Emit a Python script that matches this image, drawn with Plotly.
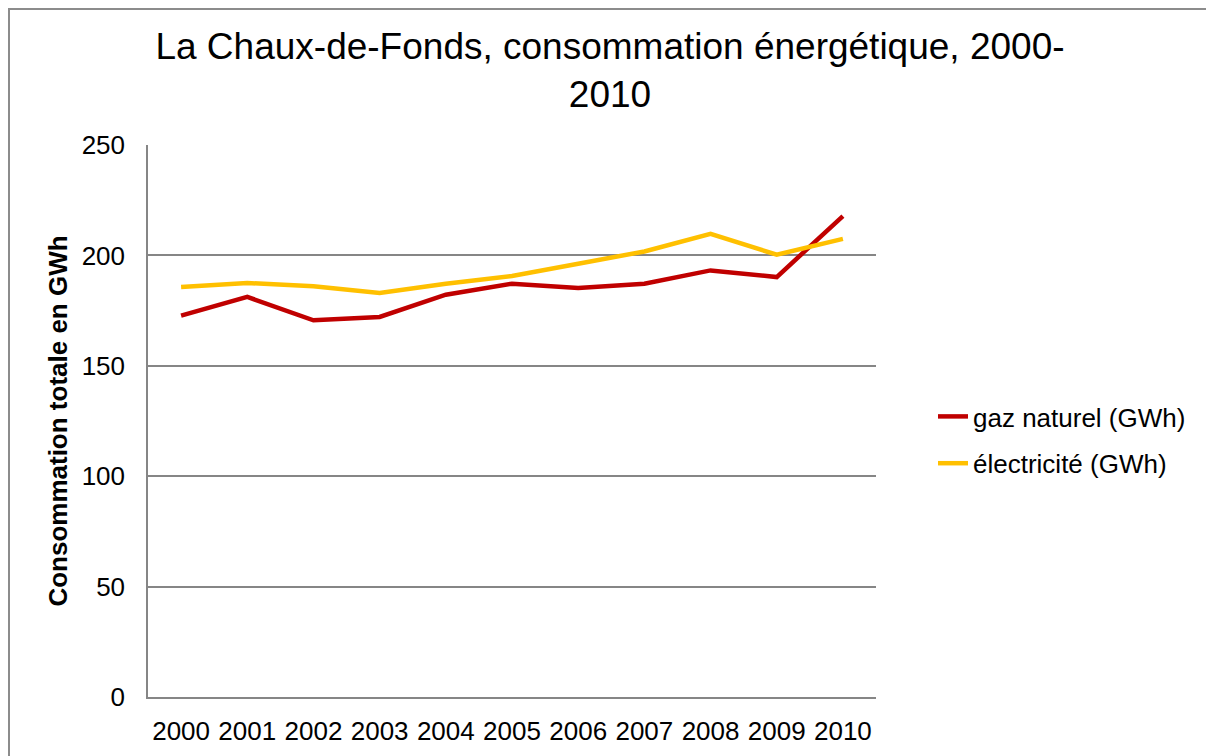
import plotly.graph_objects as go

years = ["2000", "2001", "2002", "2003", "2004", "2005", "2006", "2007", "2008", "2009", "2010"]
gaz_naturel = [172.7, 181.2, 170.6, 172.1, 182.2, 187.2, 185.2, 187.2, 193.2, 190.2, 217.8]
electricite = [185.7, 187.5, 186.0, 183.0, 187.2, 190.7, 196.2, 201.8, 209.8, 200.3, 207.5]
y_ticks = [0, 50, 100, 150, 200, 250]

FONT = "Liberation Sans, Arial, sans-serif"
OFF = 8  # page body margin

fig = go.Figure()
fig.add_trace(go.Scatter(x=years, y=gaz_naturel, mode="lines", name="gaz naturel (GWh)",
                         legendgroup="g", line=dict(color="#C00000", width=4.5)))
fig.add_trace(go.Scatter(x=years, y=electricite, mode="lines", name="électricité (GWh)",
                         legendgroup="e", line=dict(color="#FFC000", width=4.5)))

W, H = 1214, 756
L, T = 148 - OFF, 145 - OFF
R = W - (876 - OFF)
B = H - (697 - OFF)
pw, ph = W - L - R, H - T - B


def px(xs):
    return (xs - OFF - L) / pw


def py(ys):
    return (697 - ys) / ph


fig.update_layout(
    width=W, height=H,
    margin=dict(l=L, r=R, t=T, b=B, pad=0),
    paper_bgcolor="white", plot_bgcolor="white",
    font=dict(family=FONT, size=26, color="black"),
    title=dict(text="La Chaux-de-Fonds, consommation énergétique, 2000-<br>2010",
               x=(610 - OFF) / W, xanchor="center", y=1 - 51 / H, yanchor="top",
               font=dict(family=FONT, size=37, color="black")),
    showlegend=True,
    legend=dict(x=px(933), xanchor="left", y=py(440), yanchor="middle",
                font=dict(family=FONT, size=26, color="black"),
                itemwidth=30, tracegroupgap=10, bgcolor="rgba(0,0,0,0)"),
    shapes=[dict(type="rect", xref="paper", yref="paper",
                 x0=px(OFF + 1), x1=px(1260),
                 y0=py(800), y1=py(OFF + 1),
                 line=dict(color="#8c8c8c", width=2), fillcolor="rgba(0,0,0,0)", layer="below")],
)
fig.update_xaxes(type="category", range=[-0.5, 10.5], showgrid=False,
                 showline=True, linecolor="#868686", linewidth=1.5,
                 ticks="", ticklabelstandoff=10,
                 tickfont=dict(family=FONT, size=26, color="black"))
fig.update_yaxes(range=[0, 250], tickvals=y_ticks, showgrid=True, gridcolor="#868686", gridwidth=1.5,
                 showline=True, linecolor="#868686", linewidth=1.5, zeroline=False,
                 ticks="", ticklabelstandoff=16,
                 tickfont=dict(family=FONT, size=26, color="black"),
                 title=dict(text="<b>Consommation totale en GWh</b>", standoff=7,
                            font=dict(family=FONT, size=26, color="black")))

fig.write_html("out.html")
